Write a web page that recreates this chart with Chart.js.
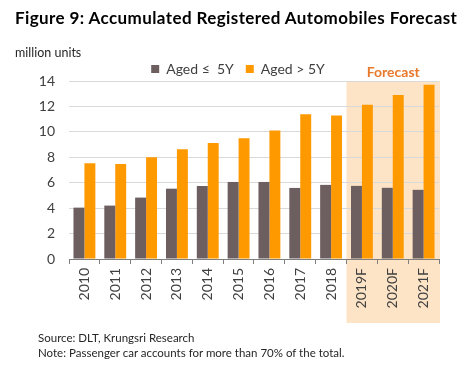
<!DOCTYPE html>
<html>
<head>
<meta charset="utf-8">
<script src="https://cdn.jsdelivr.net/npm/chart.js@4.4.1/dist/chart.umd.min.js"></script>
<style>
  body { margin: 0; background: #fff; font-family: Lato, "Open Sans", sans-serif; }
  .wrap { position: relative; width: 474px; height: 367px; overflow: hidden; }
  #chart { position: absolute; left: 0; top: 0; }
  .title { position: absolute; left: 15px; top: 7px; font-size: 17px; letter-spacing: 0.4px; font-weight: bold; color: #000; white-space: nowrap; }
  .unit { position: absolute; left: 15px; top: 45px; font-size: 12.5px; color: #262626; }
  .src { position: absolute; left: 38px; top: 331px; font-size: 11.5px; line-height: 14.5px; color: #262626; }
</style>
</head>
<body>
<div class="wrap">
  <canvas id="chart" width="474" height="367"></canvas>
  <div class="title">Figure 9: Accumulated Registered Automobiles Forecast</div>
  <div class="unit">million units</div>
  <div class="src">Source: DLT, Krungsri Research<br>Note: Passenger car accounts for more than 70% of the total.</div>
</div>
<script>
const years = ["2010", "2011", "2012", "2013", "2014", "2015", "2016", "2017", "2018", "2019F", "2020F", "2021F"];
const agedUnder5 = [4.04, 4.2, 4.83, 5.53, 5.74, 6.06, 6.06, 5.59, 5.83, 5.75, 5.6, 5.44];
const agedOver5 = [7.54, 7.47, 8.0, 8.63, 9.12, 9.49, 10.1, 11.38, 11.28, 12.13, 12.9, 13.7];
const yTicks = [0, 2, 4, 6, 8, 10, 12, 14];
const forecastStart = "2019F";

// peach band behind the forecast years, with the "Forecast" label above it
const forecastBand = {
  id: "forecastBand",
  beforeDraw(chart) {
    const { ctx, chartArea, scales } = chart;
    const x = scales.x;
    const i = years.indexOf(forecastStart);
    const left = (x.getPixelForValue(i - 1) + x.getPixelForValue(i)) / 2;
    const right = chartArea.right + 1;
    ctx.save();
    ctx.fillStyle = "#fde4c6";
    ctx.fillRect(left, chartArea.top, right - left, chartArea.bottom + 64 - chartArea.top);
    ctx.fillStyle = "#e8782a";
    ctx.font = "bold 14px Lato";
    ctx.textAlign = "center";
    ctx.textBaseline = "middle";
    ctx.fillText("Forecast", (left + right) / 2, chartArea.top - 9);
    ctx.restore();
  },
};

// legend sits close to the plot in the original
const legendTight = {
  id: "legendTight",
  beforeLayout(chart) {
    const lg = chart.legend;
    if (lg && !lg._patched) {
      const fit = lg.fit;
      lg.fit = function () {
        fit.call(this);
        this.height -= 5;
      };
      lg._patched = true;
    }
  },
};

new Chart(document.getElementById("chart"), {
  type: "bar",
  data: {
    labels: years,
    datasets: [
      {
        label: "Aged \u2264  5Y",
        data: agedUnder5,
        backgroundColor: "#6d5e5f",
      },
      {
        label: "Aged > 5Y",
        data: agedOver5,
        backgroundColor: "#ff9900",
      },
    ],
  },
  options: {
    responsive: false,
    animation: false,
    layout: { padding: { top: 50, left: 37, right: 35, bottom: 0 } },
    datasets: { bar: { categoryPercentage: 0.71, barPercentage: 1.0 } },
    scales: {
      x: {
        grid: {
          offset: true,
          drawOnChartArea: false,
          drawTicks: true,
          tickLength: 5,
          color: "#7f7f7f",
        },
        border: { color: "#7f7f7f" },
        ticks: {
          minRotation: 90,
          maxRotation: 90,
          padding: 4,
          color: "#404040",
          font: { family: "Lato", size: 14 },
        },
        afterFit(scale) {
          scale.height = 108;
        },
      },
      y: {
        min: 0,
        max: 14,
        afterBuildTicks(scale) {
          scale.ticks = yTicks.map((v) => ({ value: v }));
        },
        grid: { color: "#d9d9d9", drawTicks: false },
        border: { display: false },
        ticks: {
          padding: 14,
          color: "#404040",
          font: { family: "Lato", size: 14 },
        },
        afterFit(scale) {
          scale.width = 32;
        },
      },
    },
    plugins: {
      legend: {
        position: "top",
        labels: {
          boxWidth: 8,
          boxHeight: 8,
          padding: 12,
          color: "#404040",
          font: { family: "Lato", size: 14 },
        },
      },
      tooltip: { enabled: false },
    },
  },
  plugins: [forecastBand, legendTight],
});
</script>
</body>
</html>
